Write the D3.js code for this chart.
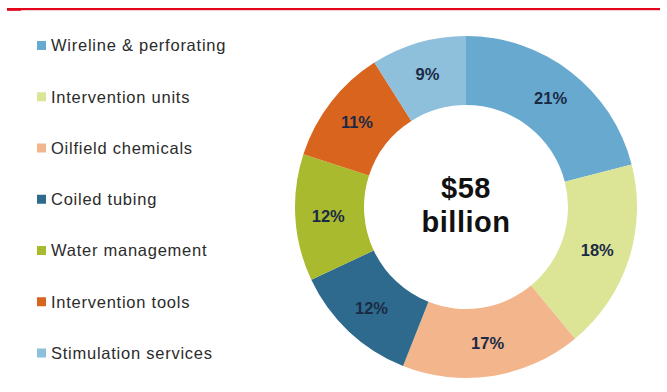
<!DOCTYPE html>
<html>
<head>
<meta charset="utf-8">
<script src="https://cdn.jsdelivr.net/npm/d3@7"></script>
<style>
  html, body { margin: 0; padding: 0; background: #fff; }
  svg { display: block; }
</style>
</head>
<body>
<svg id="chart" width="667" height="392"></svg>
<script>
// Market segments and their shares of the $58 billion total
const categories = [
  "Wireline & perforating",
  "Intervention units",
  "Oilfield chemicals",
  "Coiled tubing",
  "Water management",
  "Intervention tools",
  "Stimulation services"
];
const shares = [21, 18, 17, 12, 12, 11, 9];
const colors = ["#68a9d0", "#dce596", "#f3b58c", "#2e6a8d", "#a9ba2f", "#d9641d", "#8ebfdb"];
const centerLines = ["$58", "billion"];

const svg = d3.select("#chart");
const W = 667, H = 392;

// Red rule along the top
svg.append("rect").attr("x", 7).attr("y", 8).attr("width", 653).attr("height", 2.2).attr("fill", "#e2071c");
svg.append("rect").attr("x", 7).attr("y", 9).attr("width", 14).attr("height", 1.8).attr("fill", "#e2071c");

// Legend
const legendY = d3.scalePoint().domain(categories).range([45.5, 353]);
const legend = svg.append("g");
const items = legend.selectAll("g").data(categories).join("g")
  .attr("transform", d => `translate(0,${legendY(d)})`);
items.append("rect")
  .attr("x", 37).attr("y", -4.5).attr("width", 9).attr("height", 9)
  .attr("fill", (d, i) => colors[i]);
items.append("text")
  .attr("x", 51).attr("y", 0).attr("dy", "0.35em")
  .attr("font-family", "'Liberation Sans', Arial, sans-serif")
  .attr("font-size", 16.5).attr("letter-spacing", 0.75)
  .attr("fill", "#2b2b2b")
  .text(d => d);

// Donut
const cx = 466, cy = 207, outerR = 171, innerR = 102;
const pie = d3.pie().sort(null).value(d => d);
const arc = d3.arc().innerRadius(innerR).outerRadius(outerR);
const labelArc = d3.arc().innerRadius(138).outerRadius(138);
const g = svg.append("g").attr("transform", `translate(${cx},${cy})`);
const arcs = pie(shares);
g.selectAll("path").data(arcs).join("path")
  .attr("d", arc)
  .attr("fill", (d, i) => colors[i]);
g.selectAll("text.pct").data(arcs).join("text")
  .attr("class", "pct")
  .attr("transform", d => `translate(${labelArc.centroid(d)})`)
  .attr("text-anchor", "middle").attr("dy", "0.36em")
  .attr("font-family", "'Liberation Sans', Arial, sans-serif")
  .attr("font-weight", "bold").attr("font-size", 16.5)
  .attr("fill", "#1b2a44")
  .text(d => d.data + "%");

// Total in the hole
g.selectAll("text.total").data(centerLines).join("text")
  .attr("class", "total")
  .attr("x", 0).attr("y", (d, i) => i === 0 ? -19 : 15)
  .attr("dy", "0.36em").attr("text-anchor", "middle")
  .attr("font-family", "'Liberation Sans', Arial, sans-serif")
  .attr("font-weight", "bold").attr("font-size", 29).attr("letter-spacing", 0.5)
  .attr("fill", "#111")
  .text(d => d);
</script>
</body>
</html>
